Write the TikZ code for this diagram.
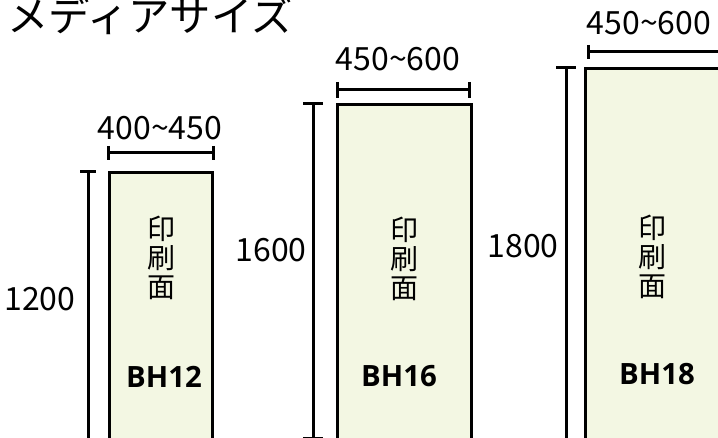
\documentclass[tikz,border=0pt]{standalone}
\usepackage{fontspec}
\setmainfont{Noto Sans CJK JP}
\newfontfamily\bhfont{Open Sans}
\definecolor{mediafill}{HTML}{F3F7E3}
\tikzset{
  mediabox/.style={draw=black, line width=2.5pt, fill=mediafill, anchor=north west, inner sep=0pt},
  dimline/.style={line width=2.25pt, draw=black},
  numlabel/.style={font=\fontsize{24pt}{26pt}\selectfont, inner sep=0pt},
  printlabel/.style={font=\fontsize{21pt}{22pt}\selectfont, align=center, inner sep=0pt},
  modellabel/.style={font=\bhfont\bfseries\fontsize{22pt}{24pt}\selectfont, inner sep=0pt},
}
\begin{document}
\begin{tikzpicture}[x=0.75pt, y=-0.75pt]
\useasboundingbox (0,0) rectangle (718,438);
\clip (0,0) rectangle (718,438);
\fill[white] (0,0) rectangle (718,438);

% title
\node[anchor=base west, inner sep=0pt, font=\fontsize{31pt}{34pt}\selectfont] (title) at (7,32) {メディアサイズ};

% ---------- BH12 ----------
\node[mediabox, minimum width=103*0.75pt, minimum height=300*0.75pt] (b12) at (108,171) {};
\coordinate (w12a) at (108,153);
\coordinate (w12b) at (213,153);
\draw[dimline] (w12a) -- (w12b);
\draw[dimline] ([yshift=7*0.75pt]w12a) -- ([yshift=-7*0.75pt]w12a);
\draw[dimline] ([yshift=7*0.75pt]w12b) -- ([yshift=-7*0.75pt]w12b);
\node[numlabel] (l12w) at (160,128) {400\char`~450};
\coordinate (h12a) at (88,172);
\coordinate (h12b) at (88,470);
\draw[dimline] (h12a) -- (h12b);
\draw[dimline] ([xshift=-8*0.75pt]h12a) -- ([xshift=8*0.75pt]h12a);
\node[numlabel] (l12h) at (40,299) {1200};
\node[printlabel] (p12) at (161,258) {印\\刷\\面};
\node[modellabel] (m12) at (164,377) {BH12};

% ---------- BH16 ----------
\node[mediabox, minimum width=134*0.75pt, minimum height=360*0.75pt] (b16) at (336,103) {};
\coordinate (w16a) at (337,90);
\coordinate (w16b) at (469,90);
\draw[dimline] (w16a) -- (w16b);
\draw[dimline] ([yshift=8*0.75pt]w16a) -- ([yshift=-8*0.75pt]w16a);
\draw[dimline] ([yshift=8*0.75pt]w16b) -- ([yshift=-8*0.75pt]w16b);
\node[numlabel] (l16w) at (398,59) {450\char`~600};
\coordinate (h16a) at (313,104);
\coordinate (h16b) at (313,438.5);
\draw[dimline] (h16a) -- (h16b);
\draw[dimline] ([xshift=-10*0.75pt]h16a) -- ([xshift=10*0.75pt]h16a);
\draw[dimline] ([xshift=-10*0.75pt]h16b) -- ([xshift=10*0.75pt]h16b);
\node[numlabel] (l16h) at (271,250) {1600};
\node[printlabel] (p16) at (404,259) {印\\刷\\面};
\node[modellabel] (m16) at (399,376) {BH16};

% ---------- BH18 ----------
\node[mediabox, minimum width=160*0.75pt, minimum height=400*0.75pt] (b18) at (584,67) {};
\coordinate (w18a) at (588,52);
\coordinate (w18b) at (760,52);
\draw[dimline] (w18a) -- (w18b);
\draw[dimline] ([yshift=7*0.75pt]w18a) -- ([yshift=-7*0.75pt]w18a);
\node[numlabel] (l18w) at (649,23) {450\char`~600};
\coordinate (h18a) at (566,68);
\coordinate (h18b) at (566,470);
\draw[dimline] (h18a) -- (h18b);
\draw[dimline] ([xshift=-10*0.75pt]h18a) -- ([xshift=10*0.75pt]h18a);
\node[numlabel] (l18h) at (523,246) {1800};
\node[printlabel] (p18) at (652,257) {印\\刷\\面};
\node[modellabel] (m18) at (657,374) {BH18};
\end{tikzpicture}
\end{document}
